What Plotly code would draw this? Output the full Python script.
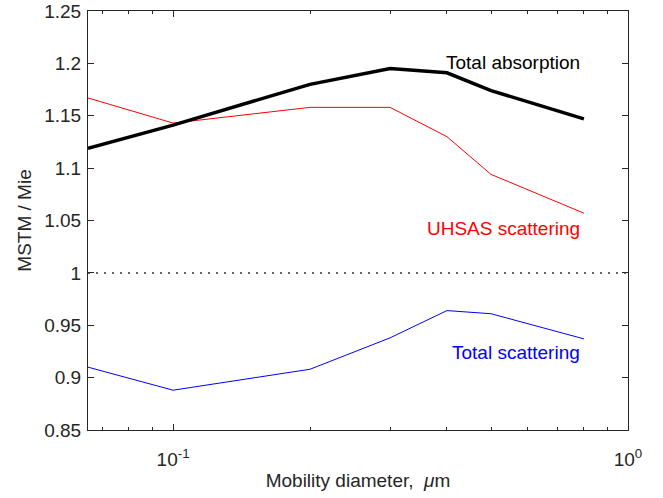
import math
import plotly.graph_objects as go

diam = [0.065, 0.1, 0.2, 0.3, 0.4, 0.5, 0.8]
total_absorption = [1.119, 1.141, 1.180, 1.195, 1.191, 1.174, 1.147]
uhsas_scattering = [1.167, 1.143, 1.158, 1.158, 1.130, 1.094, 1.057]
total_scattering = [0.910, 0.888, 0.908, 0.938, 0.964, 0.961, 0.937]

xtick_vals = [0.1, 1]
xtick_text = ["10<sup>-1</sup>", "10<sup>0</sup>"]
ytick_vals = [0.85, 0.9, 0.95, 1.0, 1.05, 1.1, 1.15, 1.2, 1.25]
ytick_text = ["0.85", "0.9", "0.95", "1", "1.05", "1.1", "1.15", "1.2", "1.25"]

labels = ["Total absorption", "UHSAS scattering", "Total scattering"]
label_x = [0.8, 0.8, 0.8]
label_y = [1.201, 1.042, 0.9237]
label_colors = ["#000000", "#ff0000", "#0000ff"]

axc = "#262626"
font = "Liberation Sans, Arial, sans-serif"
fs = 19

fig = go.Figure()
fig.add_trace(go.Scatter(x=diam, y=uhsas_scattering, mode="lines",
                         line=dict(color="#ff0000", width=1), showlegend=False))
fig.add_trace(go.Scatter(x=diam, y=total_scattering, mode="lines",
                         line=dict(color="#0000ff", width=1), showlegend=False))
fig.add_trace(go.Scatter(x=diam, y=total_absorption, mode="lines",
                         line=dict(color="#000000", width=3.5), showlegend=False))

fig.add_hline(y=1, line=dict(color="#333333", width=1.5, dash="2px,6px"))

for t, lx, ly, c in zip(labels, label_x, label_y, label_colors):
    fig.add_annotation(x=math.log10(lx), y=ly, xref="x", yref="y", text=t,
                       showarrow=False, xanchor="right", yanchor="middle",
                       font=dict(color=c, size=fs, family=font), xshift=-2)

fig.update_layout(
    width=663, height=498,
    margin=dict(l=88, r=35, t=11, b=68, autoexpand=False),
    paper_bgcolor="white", plot_bgcolor="white",
    font=dict(family=font, size=fs, color=axc),
    xaxis=dict(type="log", range=[-1.187, 0], tickvals=xtick_vals, ticktext=xtick_text,
               ticks="inside", ticklen=6, tickcolor=axc, showgrid=False, zeroline=False,
               showline=True, linecolor=axc, linewidth=1, mirror="ticks", automargin=False,
               minor=dict(ticks="inside", ticklen=3, tickcolor=axc, showgrid=False,
                          tickvals=[0.07, 0.08, 0.09, 0.2, 0.3, 0.4, 0.5, 0.6, 0.7, 0.8, 0.9]),
               ticklabelstandoff=12,
               title=dict(text="Mobility diameter,&nbsp; <i>μ</i>m", font=dict(size=fs, color=axc), standoff=4),
               tickfont=dict(size=fs, color=axc)),
    yaxis=dict(range=[0.85, 1.25], tickvals=ytick_vals, ticktext=ytick_text,
               ticks="inside", ticklen=6, tickcolor=axc, showgrid=False, zeroline=False,
               showline=True, linecolor=axc, linewidth=1, mirror="ticks", automargin=False,
               ticklabelstandoff=2,
               title=dict(text="MSTM / Mie", font=dict(size=fs, color=axc), standoff=7),
               tickfont=dict(size=fs, color=axc)),
)

fig.write_html("out.html")
